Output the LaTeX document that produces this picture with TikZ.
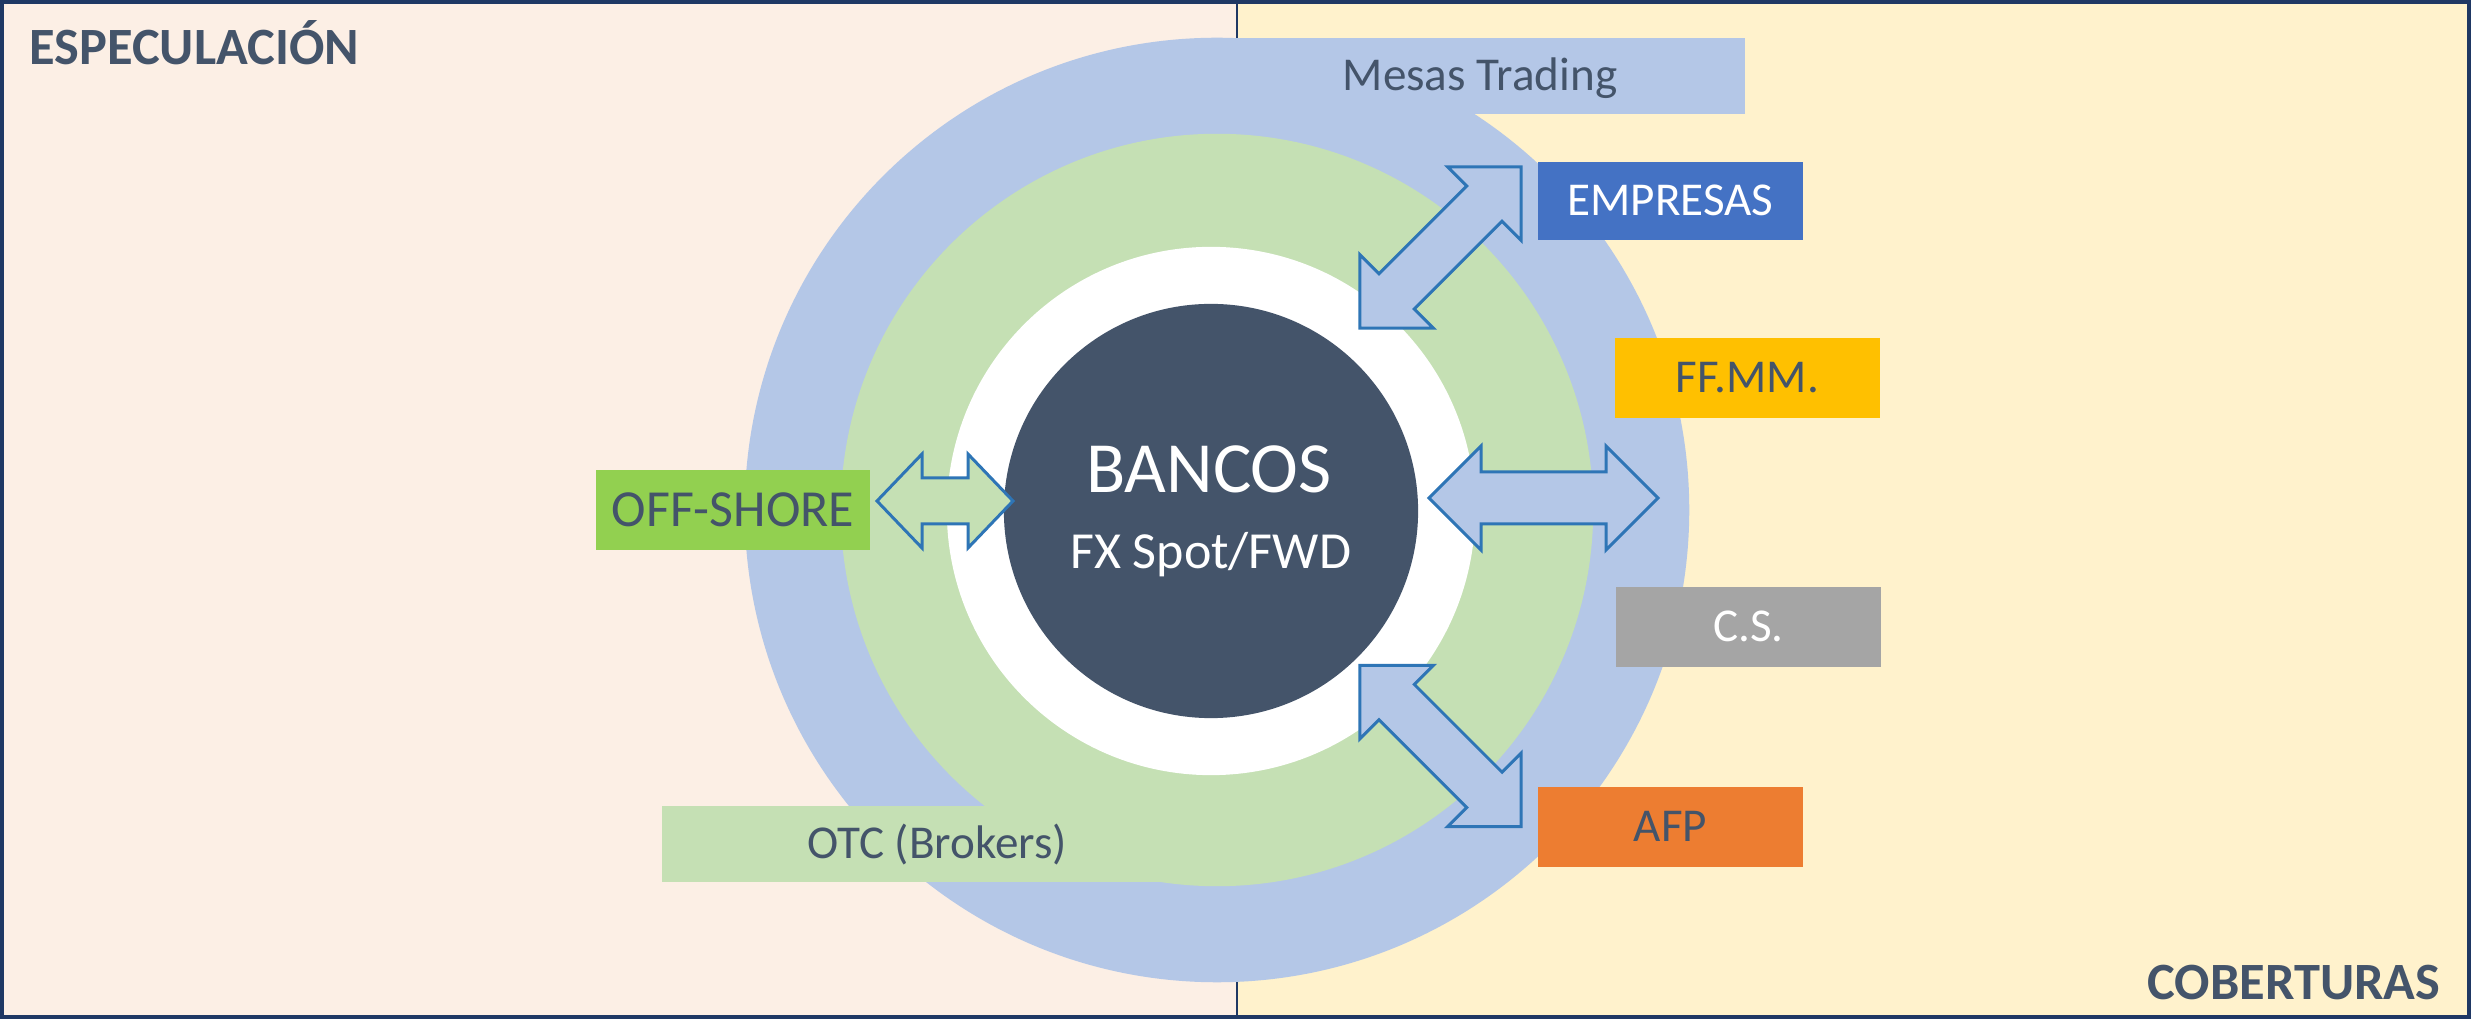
\documentclass[tikz,border=0pt]{standalone}
\usepackage{fontspec}
\setmainfont{Carlito}
\definecolor{bgL}{HTML}{FCEFE5}
\definecolor{bgR}{HTML}{FFF2CC}
\definecolor{navy}{HTML}{1F3864}
\definecolor{ringblue}{HTML}{B4C7E7}
\definecolor{ringgreen}{HTML}{C5E0B4}
\definecolor{darkslate}{HTML}{44546A}
\definecolor{arrline}{HTML}{2E75B6}
\definecolor{empblue}{HTML}{4472C4}
\definecolor{gold}{HTML}{FFC000}
\definecolor{grayb}{HTML}{A5A5A5}
\definecolor{orangeb}{HTML}{ED7D31}
\definecolor{offgreen}{HTML}{92D050}
\newcommand{\blockarrow}[7]{%
  \begin{scope}[shift={#1},rotate=#2]
    \filldraw[arrowline, fill=#7] ({-#3},0) -- ({-#3+#4},{-#5}) -- ({-#3+#4},{-#6}) -- ({#3-#4},{-#6}) -- ({#3-#4},{-#5}) -- ({#3},0) -- ({#3-#4},{#5}) -- ({#3-#4},{#6}) -- ({-#3+#4},{#6}) -- ({-#3+#4},{#5}) -- cycle;
  \end{scope}}
\tikzset{
  arrowline/.style={draw=arrline, line width=0.85pt, line join=miter},
  lbl/.style={inner sep=0pt, text height=0.297cm, text depth=0pt, font=\fontsize{13.4}{16}\selectfont, text=darkslate},
  lblbig/.style={inner sep=0pt, text height=0.33cm, text depth=0pt, font=\fontsize{14.8}{18}\selectfont, text=darkslate},
  header/.style={inner sep=0pt, font=\bfseries\fontsize{14.9}{18}\selectfont, text=darkslate},
}
\begin{document}
\begin{tikzpicture}[x=0.01cm,y=-0.01cm]
\useasboundingbox (0,0) rectangle (2471,1019);
% panels
\fill[bgL] (0,0) rectangle (1237,1019);
\fill[bgR] (1237,0) rectangle (2471,1019);
\draw[navy, line width=0.6pt] (1237,0) -- (1237,1019);
% outer blue ring
\fill[ringblue] (1217,510) circle [radius=4.72cm];
\node (mesas) [lbl, fill=ringblue, minimum width=5.30cm, minimum height=0.76cm] at (1480,76) {Mesas Trading};
% green ring
\fill[ringgreen] (1217,510) circle [radius=3.76cm];
\node (otc) [lbl, fill=ringgreen, minimum width=5.50cm, minimum height=0.76cm] at (937,844) {OTC (Brokers)};
% white ring and core
\fill[white] (1211,511) circle [radius=2.64cm];
\node (bancos) [circle, fill=darkslate, inner sep=0pt, minimum size=4.14cm] at (1211,511) {};
\node (bancosT) [anchor=base, inner sep=0pt, text=white, font=\fontsize{20.5}{24}\selectfont] at (1209,493) {BANCOS};
\node (fxT) [anchor=base, inner sep=0pt, text=white, font=\fontsize{14.8}{18}\selectfont] at (1211,569) {FX Spot/FWD};
% boxes
\node (off) [lblbig, fill=offgreen, minimum width=2.74cm, minimum height=0.80cm] at (733,510) {OFF-SHORE};
\node (emp) [lbl, fill=empblue, text=white, minimum width=2.65cm, minimum height=0.78cm] at (1670.5,201) {EMPRESAS};
\node (ffmm) [lbl, fill=gold, minimum width=2.65cm, minimum height=0.80cm] at (1747.5,378) {FF.MM.};
\node (cs) [lbl, fill=grayb, text=white, minimum width=2.65cm, minimum height=0.80cm] at (1748.5,627) {C.S.};
\node (afp) [lbl, fill=orangeb, minimum width=2.65cm, minimum height=0.80cm] at (1670.5,827) {AFP};
% block arrows
\blockarrow{(945,501)}{0}{68}{45}{47}{23}{ringgreen}
\blockarrow{(1543.5,498)}{0}{114.5}{52}{52}{26}{ringblue}
\blockarrow{(1440.5,247.5)}{45}{114}{52}{52}{25}{ringblue}
\blockarrow{(1440.5,746)}{-45}{114}{52}{52}{25}{ringblue}
% headers
\node (espec) [header, anchor=base west] at (29,65) {ESPECULACIÓN};
\node (cober) [header, anchor=base east] at (2441,1000) {COBERTURAS};
% frame
\draw[navy, line width=0.9pt] (2,2) rectangle (2469,1017);
\end{tikzpicture}
\end{document}
